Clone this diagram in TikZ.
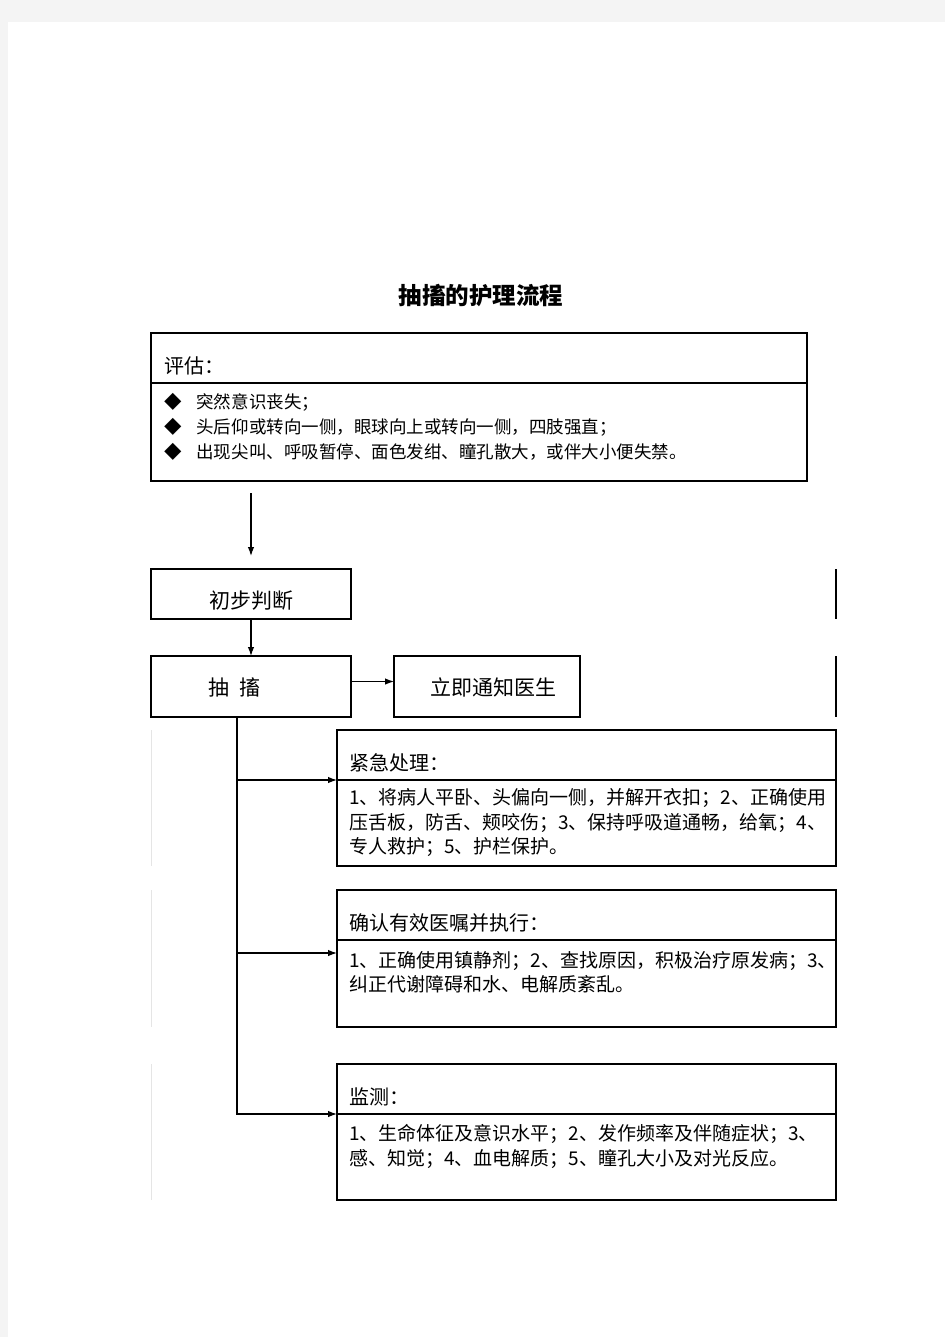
\documentclass[tikz,border=0pt]{standalone}
\usepackage{fontspec}
\newfontfamily\cjk{Noto Sans CJK SC}
\usepackage{tikz}
\usetikzlibrary{arrows.meta,positioning}
\definecolor{pagegray}{RGB}{244,244,244}

\begin{document}
\begin{tikzpicture}[>={Latex[length=9pt,width=6.5pt]}, x=1pt, y=-1pt, line width=1.2pt, font=\cjk,
		frame/.style={draw, outer sep=0pt, inner ysep=0pt, align=left},
		head/.style={frame, anchor=north west, inner xsep=12pt, text width=475pt, text height=40pt, text depth=10pt, font=\cjk\fontsize{20}{24}\selectfont},
		body/.style={frame, inner xsep=12pt, text width=475pt, font=\cjk\fontsize{19}{24.5}\selectfont},
		stepbox/.style={frame, anchor=north west, text height=39pt, font=\cjk\fontsize{21}{25}\selectfont}]
		%\draw [help lines, step=50] (0,0) grid (945,1337);
		\useasboundingbox (0,0) rectangle (945,1337);
		\fill [pagegray] (0,0) rectangle (945,1337);
		\fill [white] (8,22) rectangle (945,1337);

		\node [font=\cjk\bfseries\fontsize{23.5}{28}\selectfont] (title) at (481,296) {抽搐的护理流程};

		% assessment
		\node [head, inner xsep=13pt, text width=630pt] (ashead) at (151,333) {评估：};
		\node [body, inner xsep=13pt, text width=630pt, minimum height=98pt, below=0pt of ashead, font=\cjk\fontsize{17.5}{25}\selectfont] (asbody)
			{◆\hspace{15pt}突然意识丧失；\\
			 ◆\hspace{15pt}头后仰或转向一侧，眼球向上或转向一侧，四肢强直；\\
			 ◆\hspace{15pt}出现尖叫、呼吸暂停、面色发绀、瞳孔散大，或伴大小便失禁。\\[-12pt] \mbox{}};

		% steps
		\node [stepbox, align=center, inner xsep=0pt, text width=200pt, text depth=11pt] (pb) at (151,569) {初步判断};
		\node [stepbox, inner xsep=57pt, text width=86pt, text depth=22pt] (cc) at (151,656) {抽\hspace{0.5em}搐};
		\node [stepbox, inner xsep=36pt, text width=114pt, text depth=22pt] (tz) at (394,656) {立即通知医生};

		\node [head] (jjhead) at (337,730) {紧急处理：};
		\node [body, minimum height=86pt, below=0pt of jjhead] (jjbody)
			{1、将病人平卧、头偏向一侧，并解开衣扣；2、正确使用\\
			 压舌板，防舌、颊咬伤；3、保持呼吸道通畅，给氧；4、\\
			 专人救护；5、护栏保护。};
		\node [head] (qrhead) at (337,890) {确认有效医嘱并执行：};
		\node [body, minimum height=87pt, below=0pt of qrhead] (qrbody)
			{1、正确使用镇静剂；2、查找原因，积极治疗原发病；3、\\
			 纠正代谢障碍和水、电解质紊乱。\\ \mbox{}};
		\node [head] (jchead) at (337,1064) {监测：};
		\node [body, minimum height=86pt, below=0pt of jchead] (jcbody)
			{1、生命体征及意识水平；2、发作频率及伴随症状；3、\\
			 感、知觉；4、血电解质；5、瞳孔大小及对光反应。\\ \mbox{}};

		% arrows
		\draw [->, shorten <=12pt, shorten >=13pt] (asbody.south -| pb.north) -- (pb.north);
		\draw [->] (pb) -- (cc);
		\draw [->] ([yshift=5pt]cc.east) -- ([yshift=5pt]tz.west);
		\coordinate (trunk) at ([xshift=-14pt]cc.south);
		\draw [->] (trunk) |- (jjhead.south west);
		\draw [->] (trunk) |- ([yshift=-13pt]qrbody.north west);
		\draw [->] (trunk) |- (jchead.south west);

		% stray table rules
		\draw (pb.north -| jjhead.east) -- (pb.south -| jjhead.east);
		\draw (cc.north -| jjhead.east) -- (cc.south -| jjhead.east);
		\draw [thin, black!10] (jjhead.north west -| cc.west) -- (jjbody.south west -| cc.west);
		\draw [thin, black!10] (qrhead.north west -| cc.west) -- (qrbody.south west -| cc.west);
		\draw [thin, black!10] (jchead.north west -| cc.west) -- (jcbody.south west -| cc.west);
	\end{tikzpicture}
\end{document}
